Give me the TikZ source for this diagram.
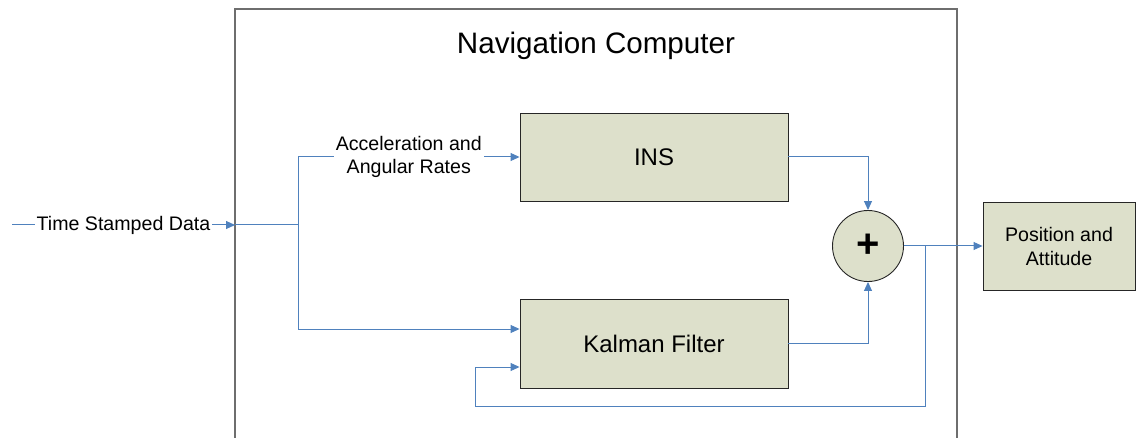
\documentclass[tikz,border=0pt]{standalone}
\usepackage{fontspec}
\setmainfont{Liberation Sans}
\usetikzlibrary{arrows.meta,calc}
\definecolor{boxfill}{HTML}{DDE0CB}
\definecolor{wireblue}{HTML}{4F81BD}
\definecolor{navgray}{HTML}{6E6E6E}
\tikzset{
  navbox/.style={draw=navgray, line width=1.6pt},
  blk/.style={draw=black!85, fill=boxfill, line width=0.9pt, minimum width=268pt, minimum height=88pt, inner sep=0pt, font=\fontsize{24}{28}\selectfont, align=center},
  sumc/.style={circle, draw=black!85, fill=boxfill, line width=0.9pt, minimum size=71pt, inner sep=0pt, font=\fontsize{40}{44}\selectfont\bfseries},
  titletext/.style={font=\fontsize{29.6}{34}\selectfont, inner sep=0pt},
  lbl/.style={font=\fontsize{19.6}{23}\selectfont, fill=white, inner sep=2pt, align=center},
  wire/.style={draw=wireblue, line width=1pt},
  flow/.style={wire, -{Triangle[length=9pt,width=8pt]}}
}
\begin{document}
\begin{tikzpicture}[x=1pt,y=-1pt]
\useasboundingbox (0,0) rectangle (1137,438);
\draw[navbox] (235,438) -- (235,9) -- (957,9) -- (957,438);
\node[titletext] (nav) at (596,46) {Navigation Computer};
\node[blk] (ins) at (654,157) {INS};
\node[blk, minimum height=89pt] (kal) at (654,343.5) {Kalman Filter};
\node[sumc] (sum) at (868,246) {+};
\node[blk, minimum width=152pt, font=\fontsize{19.6}{24}\selectfont] (pos) at (1059,246) {Position and\\Attitude};
\coordinate (src) at (12,225);
\coordinate (navin) at (235,225);
\coordinate (br) at (298,225);
\coordinate (brt) at (298,157);
\coordinate (brb) at (298,329);
\coordinate (k2) at (520,367);
\coordinate (fbx) at (925,246);
\coordinate (fbc) at (925,406);
\coordinate (fbl) at (475,406);
\draw[flow] (src) -- node[lbl] (tsd) {Time Stamped Data} (navin);
\draw[wire] (navin) -- (br);
\draw[flow] (br) -- (brt) -- node[lbl] (acc) {Acceleration and\\Angular Rates} (ins.west);
\draw[flow] (br) -- (brb) -- (brb -| kal.west);
\draw[flow] (ins.east) -| (sum.north);
\draw[flow] (kal.east) -| (sum.south);
\draw[flow] (sum.east) -- (pos.west);
\draw[flow] (fbx) -- (fbc) -- (fbl) |- (kal.west |- k2);
\end{tikzpicture}
\end{document}
